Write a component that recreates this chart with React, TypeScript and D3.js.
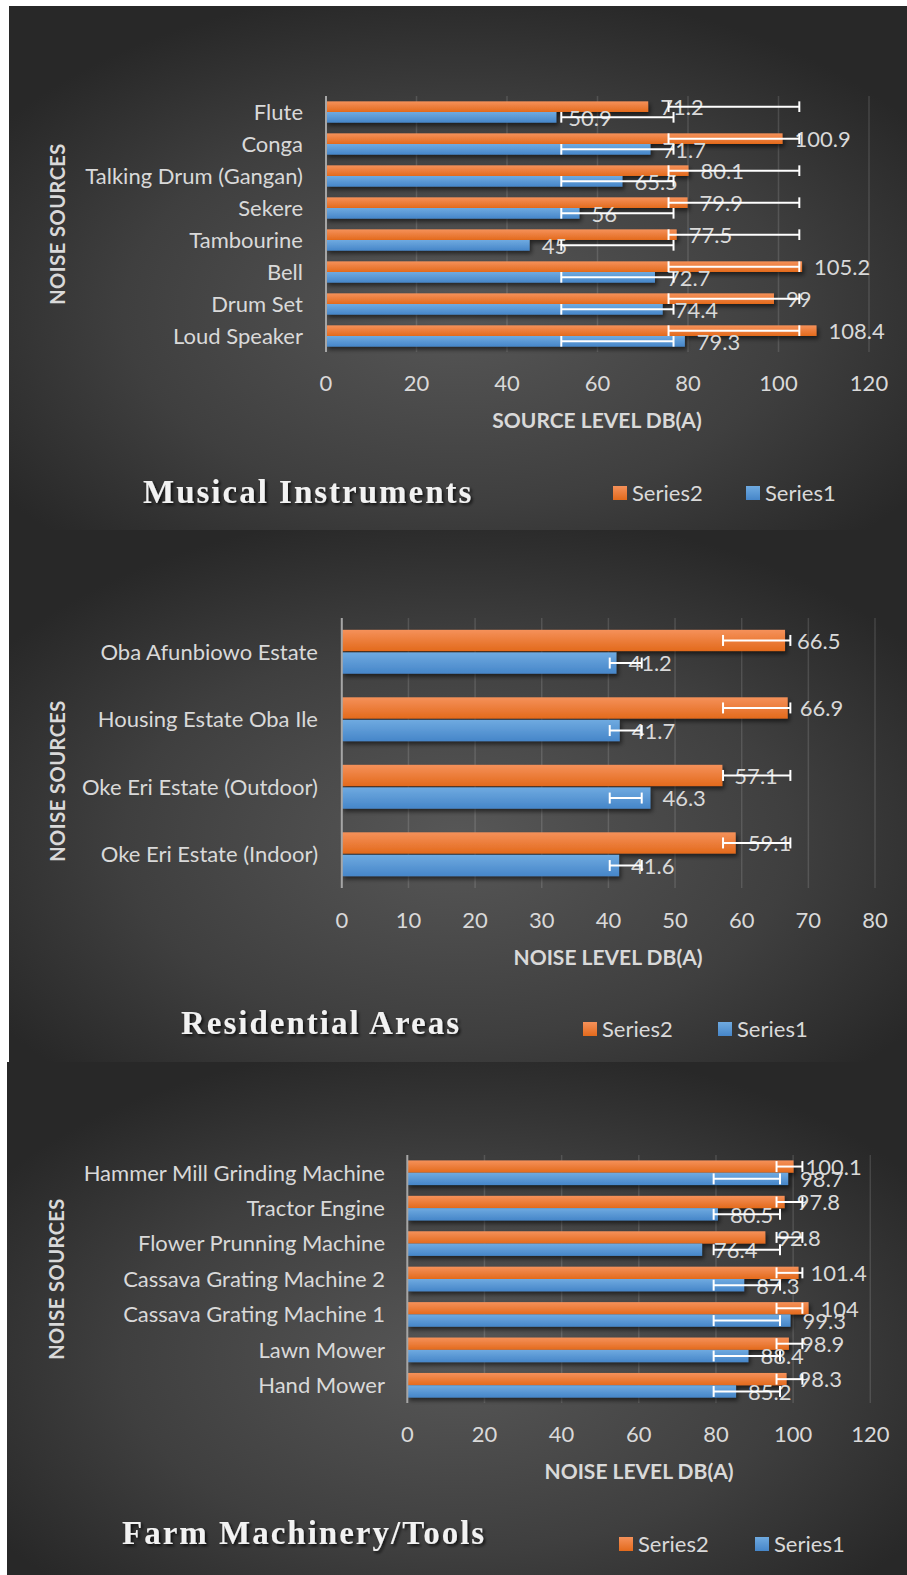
import React from 'react';
import * as d3 from 'd3';

// ---------- DATA ----------
const seriesNames = ['Series2', 'Series1'];

const musicCategories = ['Flute', 'Conga', 'Talking Drum (Gangan)', 'Sekere', 'Tambourine', 'Bell', 'Drum Set', 'Loud Speaker'];
const musicSeries2 = [71.2, 100.9, 80.1, 79.9, 77.5, 105.2, 99, 108.4];
const musicSeries1 = [50.9, 71.7, 65.5, 56, 45, 72.7, 74.4, 79.3];
const musicErr2Low = [75.7, 75.7, 75.7, 75.7, 75.7, 75.7, 75.7, 75.7];
const musicErr2High = [104.6, 104.6, 104.6, 104.6, 104.6, 104.6, 104.6, 104.6];
const musicErr1Low = [52.0, 52.0, 52.0, 52.0, 52.0, 52.0, 52.0, 52.0];
const musicErr1High = [76.8, 76.8, 76.8, 76.8, 76.8, 76.8, 76.8, 76.8];
const musicTicks = [0, 20, 40, 60, 80, 100, 120];

const resCategories = ['Oba Afunbiowo Estate', 'Housing Estate Oba Ile', 'Oke Eri Estate (Outdoor)', 'Oke Eri Estate (Indoor)'];
const resSeries2 = [66.5, 66.9, 57.1, 59.1];
const resSeries1 = [41.2, 41.7, 46.3, 41.6];
const resErr2Low = [57.2, 57.2, 57.2, 57.2];
const resErr2High = [67.3, 67.3, 67.3, 67.3];
const resErr1Low = [40.2, 40.2, 40.2, 40.2];
const resErr1High = [45.0, 45.0, 45.0, 45.0];
const resTicks = [0, 10, 20, 30, 40, 50, 60, 70, 80];

const farmCategories = ['Hammer Mill Grinding Machine', 'Tractor Engine', 'Flower Prunning Machine', 'Cassava Grating Machine 2', 'Cassava Grating Machine 1', 'Lawn Mower', 'Hand Mower'];
const farmSeries2 = [100.1, 97.8, 92.8, 101.4, 104, 98.9, 98.3];
const farmSeries1 = [98.7, 80.5, 76.4, 87.3, 99.3, 88.4, 85.2];
const farmErr2Low = [95.7, 95.7, 95.7, 95.7, 95.7, 95.7, 95.7];
const farmErr2High = [102.4, 102.4, 102.4, 102.4, 102.4, 102.4, 102.4];
const farmErr1Low = [79.4, 79.4, 79.4, 79.4, 79.4, 79.4, 79.4];
const farmErr1High = [96.6, 96.6, 96.6, 96.6, 96.6, 96.6, 96.6];
const farmTicks = [0, 20, 40, 60, 80, 100, 120];

// ---------- LAYOUT ----------
const FONT = 'Lato, "Open Sans", sans-serif';
const TEXT = '#d9d9d9';

const panels = [
  {
    id: 'p1', bx: 9, by: 6, bh: 524,
    categories: musicCategories, s2: musicSeries2, s1: musicSeries1,
    e2l: musicErr2Low, e2h: musicErr2High, e1l: musicErr1Low, e1h: musicErr1High,
    ticks: musicTicks,
    left: 326, right: 869, top: 96, bottom: 352, pad: 0.334, innerPad: 0,
    catRight: 303, tickY: 383, axisTitle: 'SOURCE LEVEL DB(A)', axisTitleX: 597, axisTitleY: 420,
    yTitleX: 58, yTitleY: 224,
    title: 'Musical Instruments', titleX: 143, titleY: 503,
    legendX: 613, legendY: 493, legendGap: 133,
  },
  {
    id: 'p2', bx: 9, by: 530, bh: 532,
    categories: resCategories, s2: resSeries2, s1: resSeries1,
    e2l: resErr2Low, e2h: resErr2High, e1l: resErr1Low, e1h: resErr1High,
    ticks: resTicks,
    left: 341.8, right: 875, top: 618, bottom: 888, pad: 0.35, innerPad: 0.06,
    catRight: 318, tickY: 920, axisTitle: 'NOISE LEVEL DB(A)', axisTitleX: 608, axisTitleY: 957,
    yTitleX: 58, yTitleY: 781,
    title: 'Residential Areas', titleX: 181, titleY: 1034,
    legendX: 583, legendY: 1029, legendGap: 135,
  },
  {
    id: 'p3', bx: 7, by: 1062, bh: 513,
    categories: farmCategories, s2: farmSeries2, s1: farmSeries1,
    e2l: farmErr2Low, e2h: farmErr2High, e1l: farmErr1Low, e1h: farmErr1High,
    ticks: farmTicks,
    left: 407.3, right: 870.3, top: 1155, bottom: 1403, pad: 0.305, innerPad: 0,
    catRight: 385, tickY: 1434, axisTitle: 'NOISE LEVEL DB(A)', axisTitleX: 639, axisTitleY: 1471,
    yTitleX: 57, yTitleY: 1279,
    title: 'Farm Machinery/Tools', titleX: 122, titleY: 1544,
    legendX: 619, legendY: 1544, legendGap: 136,
  },
];

function Panel({ cfg }: { cfg: any }) {
  const max = cfg.ticks[cfg.ticks.length - 1];
  const x = d3.scaleLinear().domain([0, max]).range([cfg.left, cfg.right]);
  const y = d3.scaleBand<string>().domain(cfg.categories).range([cfg.top, cfg.bottom])
    .paddingInner(cfg.pad).paddingOuter(cfg.pad / 2);
  const ys = d3.scaleBand<string>().domain(seriesNames).range([0, y.bandwidth()]).paddingInner(cfg.innerPad);
  const bw = ys.bandwidth();
  const capH = Math.min(bw, 11);

  const series = [
    { name: 'Series2', values: cfg.s2, lo: cfg.e2l, hi: cfg.e2h, fill: 'url(#gOrange)' },
    { name: 'Series1', values: cfg.s1, lo: cfg.e1l, hi: cfg.e1h, fill: 'url(#gBlue)' },
  ];

  return (
    <g>
      <rect x={cfg.bx} y={cfg.by} width={907 - cfg.bx} height={cfg.bh} fill={`url(#bg)`} />
      {cfg.ticks.slice(1).map((t: number) => (
        <line key={t} x1={x(t)} x2={x(t)} y1={cfg.top} y2={cfg.bottom} stroke="rgba(255,255,255,0.13)" strokeWidth={1.5} />
      ))}
      <g filter="url(#barShadow)">
        {series.map((s) =>
          cfg.categories.map((c: string, i: number) => (
            <rect key={s.name + c} x={x(0)} y={(y(c) as number) + (ys(s.name) as number)}
              width={x(s.values[i]) - x(0)} height={bw} fill={s.fill} />
          ))
        )}
      </g>
      <line x1={x(0)} x2={x(0)} y1={cfg.top} y2={cfg.bottom} stroke="#a6a6a6" strokeWidth={2} />
      {series.map((s) =>
        cfg.categories.map((c: string, i: number) => {
          const cy = (y(c) as number) + (ys(s.name) as number) + bw / 2;
          return (
            <text key={'l' + s.name + c} x={x(s.values[i]) + 12} y={cy} dy="0.38em"
              fill={TEXT} fontFamily={FONT} fontSize={22}>{String(s.values[i])}</text>
          );
        })
      )}
      {series.map((s) =>
        cfg.categories.map((c: string, i: number) => {
          const cy = (y(c) as number) + (ys(s.name) as number) + bw / 2;
          const x1 = x(s.lo[i]);
          const x2 = x(s.hi[i]);
          return (
            <g key={'e' + s.name + c} stroke="#ffffff" strokeWidth={2}>
              <line x1={x1} x2={x2} y1={cy} y2={cy} />
              <line x1={x1} x2={x1} y1={cy - capH / 2} y2={cy + capH / 2} />
              <line x1={x2} x2={x2} y1={cy - capH / 2} y2={cy + capH / 2} />
            </g>
          );
        })
      )}
      {cfg.categories.map((c: string) => (
        <text key={'c' + c} x={cfg.catRight} y={(y(c) as number) + y.bandwidth() / 2} dy="0.36em"
          textAnchor="end" fill={TEXT} fontFamily={FONT} fontSize={22}>{c}</text>
      ))}
      {cfg.ticks.map((t: number) => (
        <text key={'t' + t} x={x(t)} y={cfg.tickY} dy="0.36em" textAnchor="middle"
          fill={TEXT} fontFamily={FONT} fontSize={22}>{t}</text>
      ))}
      <text x={cfg.axisTitleX} y={cfg.axisTitleY} dy="0.36em" textAnchor="middle" fill={TEXT}
        fontFamily={FONT} fontWeight="bold" fontSize={21}>{cfg.axisTitle}</text>
      <text transform={`translate(${cfg.yTitleX},${cfg.yTitleY}) rotate(-90)`} dy="0.36em" textAnchor="middle"
        fill={TEXT} fontFamily={FONT} fontWeight="bold" fontSize={20} letterSpacing={0.5}>NOISE SOURCES</text>
      <text x={cfg.titleX} y={cfg.titleY} fill="#f2f2f2" fontFamily='"Liberation Serif", "Times New Roman", serif'
        fontWeight="bold" fontSize={33} letterSpacing={2} filter="url(#textShadow)">{cfg.title}</text>
      {seriesNames.map((n, i) => {
        const lx = cfg.legendX + i * cfg.legendGap;
        return (
          <g key={'lg' + n}>
            <rect x={lx} y={cfg.legendY - 7} width={14} height={14} fill={n === 'Series2' ? 'url(#gOrange)' : 'url(#gBlue)'} />
            <text x={lx + 19} y={cfg.legendY} dy="0.36em" fill={TEXT} fontFamily={FONT} fontSize={22}>{n}</text>
          </g>
        );
      })}
    </g>
  );
}

export default function App() {
  return (
    <svg width={907} height={1575} style={{ position: 'absolute', left: 0, top: 0, display: 'block' }}>
      <defs>
        <radialGradient id="bg" cx="0.5" cy="0.58" r="0.62">
          <stop offset="0" stopColor="#575757" />
          <stop offset="0.6" stopColor="#3f3f3f" />
          <stop offset="1" stopColor="#282828" />
        </radialGradient>
        <linearGradient id="gOrange" x1="0" y1="0" x2="0" y2="1">
          <stop offset="0" stopColor="#f5915a" />
          <stop offset="1" stopColor="#e36a1c" />
        </linearGradient>
        <linearGradient id="gBlue" x1="0" y1="0" x2="0" y2="1">
          <stop offset="0" stopColor="#6faae0" />
          <stop offset="1" stopColor="#4686c9" />
        </linearGradient>
        <filter id="barShadow" x="-5%" y="-20%" width="115%" height="160%">
          <feDropShadow dx="2" dy="3" stdDeviation="2" floodColor="#000" floodOpacity="0.55" />
        </filter>
        <filter id="textShadow" x="-5%" y="-20%" width="115%" height="160%">
          <feDropShadow dx="2" dy="2" stdDeviation="1.5" floodColor="#000" floodOpacity="0.7" />
        </filter>
      </defs>
      <rect x={0} y={0} width={907} height={1575} fill="#ffffff" />
      {panels.map((p) => <Panel key={p.id} cfg={p} />)}
    </svg>
  );
}
